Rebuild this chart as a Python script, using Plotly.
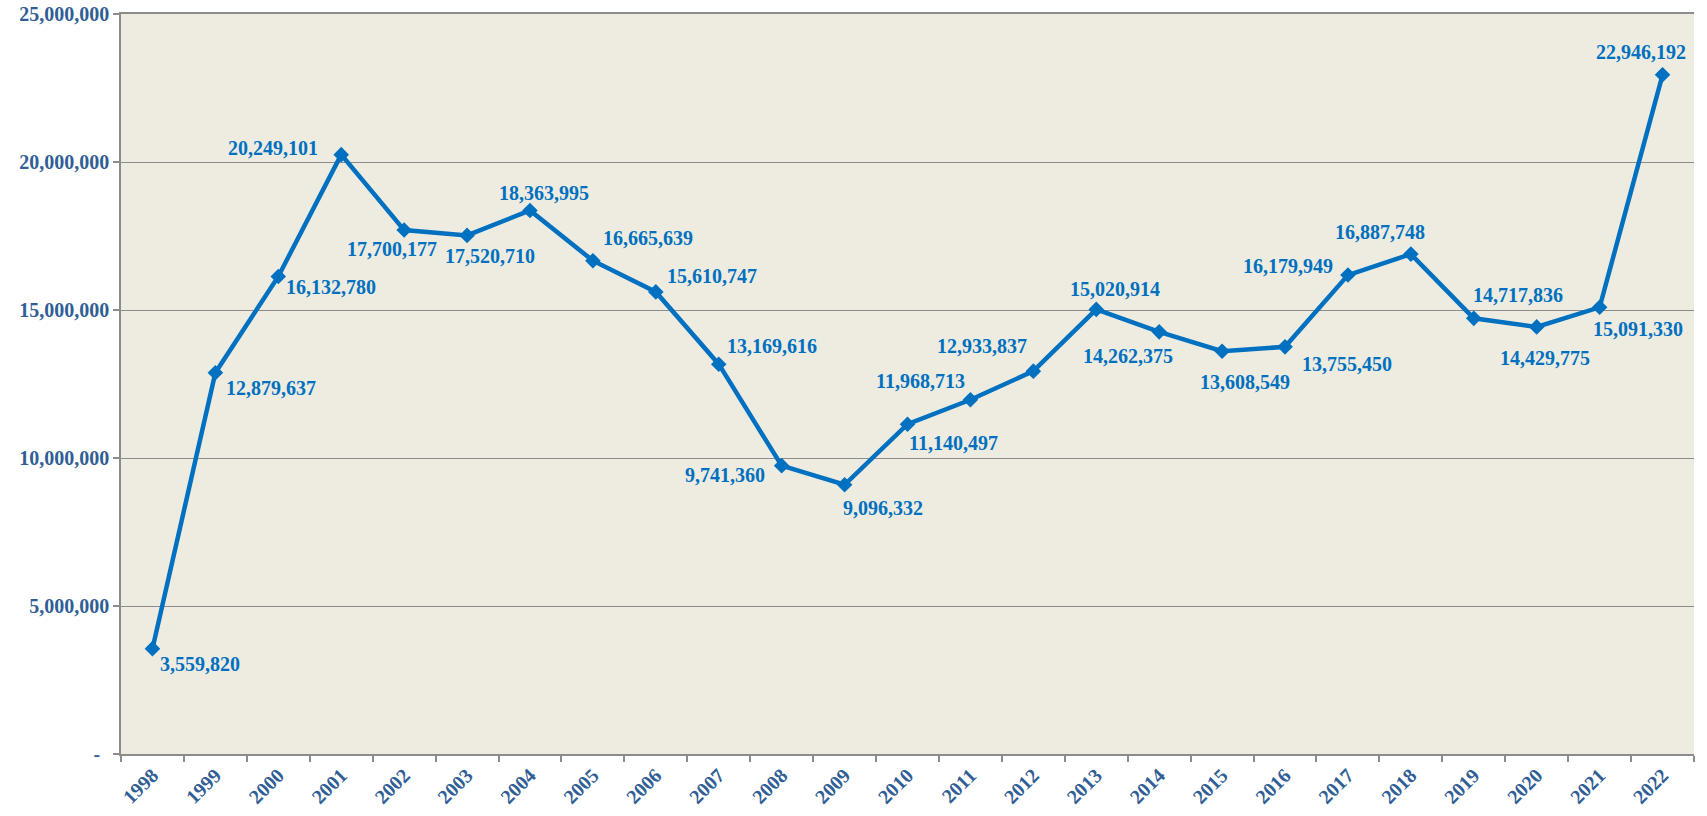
import plotly.graph_objects as go

years = [str(y) for y in range(1998, 2023)]
values = [3559820, 12879637, 16132780, 20249101, 17700177, 17520710, 18363995,
          16665639, 15610747, 13169616, 9741360, 9096332, 11140497, 11968713,
          12933837, 15020914, 14262375, 13608549, 13755450, 16179949, 16887748,
          14717836, 14429775, 15091330, 22946192]
y_tickvals = [0, 5000000, 10000000, 15000000, 20000000, 25000000]
y_ticktext = ["-\u00a0\u2009", "5,000,000", "10,000,000", "15,000,000", "20,000,000", "25,000,000"]

# label offsets in pixels (dx right, dy down) relative to each point
label_dx = [48, 56, 53, -68, -12, 23, 14, 55, 56, 53, -57, 38, 46, -50, -51, 19, -31, 23, 62, -60, -31, 44, 8, 38, -22]
label_dy = [15, 15, 11, -7, 19, 21, -17, -23, -16, -18, 9, 23, 19, -19, -25, -20, 24, 31, 17, -9, -22, -23, 31, 22, -23]

LINE = "#0070C0"
AXIS_TXT = "#305E95"
GRID = "#8C8C8C"
FONT = "Liberation Serif"

fig = go.Figure()
fig.add_trace(go.Scatter(
    x=list(range(len(years))), y=values, mode="lines+markers",
    line=dict(color=LINE, width=4.5),
    marker=dict(symbol="diamond", size=12, color=LINE),
    showlegend=False, cliponaxis=False,
))

annotations = []
for i, (v, dx, dy) in enumerate(zip(values, label_dx, label_dy)):
    annotations.append(dict(
        x=i, y=v, xref="x", yref="y", text="<b>" + f"{v:,}" + "</b>", showarrow=False,
        xshift=dx, yshift=-dy, xanchor="center", yanchor="middle",
        font=dict(family=FONT, size=20, color=LINE),
    ))

fig.update_layout(
    width=1707, height=816,
    margin=dict(l=121, r=13, t=14, b=62),
    paper_bgcolor="white", plot_bgcolor="#EEECE1",
    font=dict(family=FONT, color=AXIS_TXT),
    annotations=annotations,
)
fig.update_xaxes(
    tickmode="array", tickvals=list(range(len(years))), ticktext=["<b>" + y + "</b>" for y in years],
    ticks="", tickangle=-45,
    tickfont=dict(family=FONT, size=20, color=AXIS_TXT),
    showline=True, linecolor=GRID, linewidth=1.5, showgrid=False, mirror=True,
    range=[-0.5, 24.5], automargin=False, zeroline=False,
    minor=dict(tickmode="array", tickvals=[i - 0.5 for i in range(len(years) + 1)],
               ticks="outside", ticklen=6, tickcolor=GRID, tickwidth=1.5, showgrid=False),
)
fig.update_yaxes(
    range=[0, 25000000], tickvals=y_tickvals, ticktext=["<b>" + t + "</b>" for t in y_ticktext],
    ticks="outside", ticklen=6, tickcolor=GRID, tickwidth=1.5,
    tickfont=dict(family=FONT, size=20, color=AXIS_TXT),
    showline=True, linecolor=GRID, linewidth=1.5,
    showgrid=True, gridcolor=GRID, gridwidth=1, zeroline=False,
    automargin=False,
)

fig.write_html("out.html", config={"displayModeBar": False},
               post_script="document.body.style.margin='0';document.body.style.overflow='hidden';")
